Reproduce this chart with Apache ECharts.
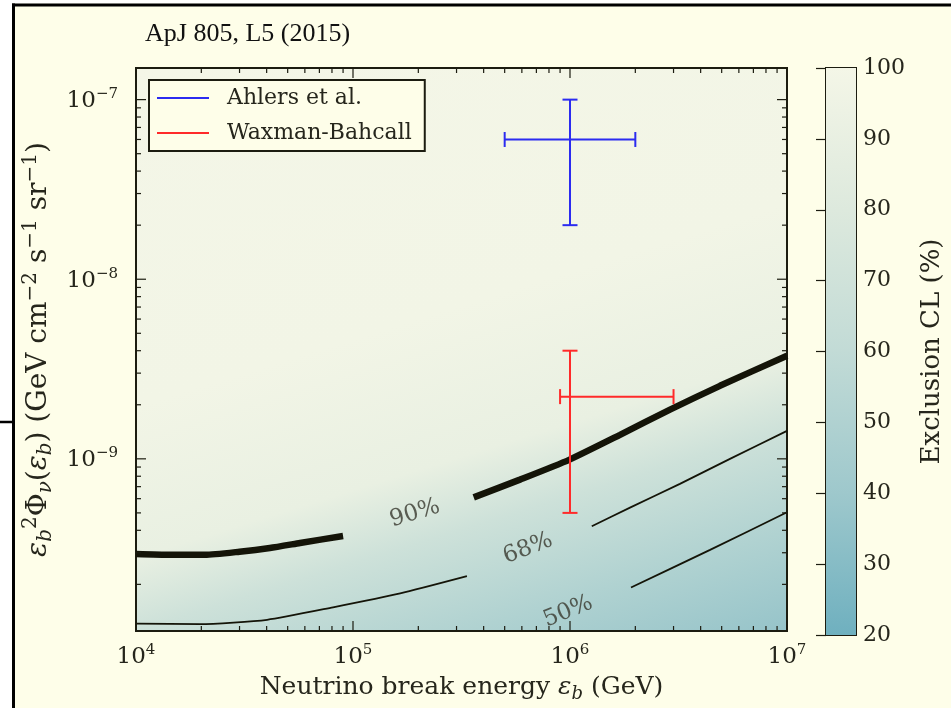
<!DOCTYPE html>
<html>
<head>
<meta charset="utf-8">
<script src="https://cdn.jsdelivr.net/npm/echarts@6/dist/echarts.min.js"></script>
<style>
  html, body { margin: 0; padding: 0; background: #ffffff; }
  #chart { width: 951px; height: 708px; }
</style>
</head>
<body>
<div id="chart"></div>
<script>
// ---- axes ----
const xRange = [1e4, 1e7];            // neutrino break energy (GeV)
const yRange = [1.1e-10, 1.5e-7];     // eps_b^2 Phi (GeV cm^-2 s^-1 sr^-1)
const minorSteps = [2, 3, 4, 5, 6, 7, 8, 9];
const xDecades = [1e4, 1e5, 1e6, 1e7];
const yDecades = [1e-10, 1e-9, 1e-8, 1e-7];

// ---- exclusion contours, each a list of drawn segments ----
const contour90 = [
  [[1e4, 2.95e-10], [1.43e4, 2.92e-10], [2.08e4, 2.92e-10], [3.0e4, 3.04e-10], [4.14e4, 3.19e-10], [5.7e4, 3.40e-10], [9.0e4, 3.72e-10]],
  [[3.6e5, 6.1e-10], [5.88e5, 7.66e-10], [9.9e5, 9.87e-10], [1.7e6, 1.36e-9], [2.89e6, 1.88e-9], [4.91e6, 2.55e-9], [1e7, 3.75e-9]]
];
const contour68 = [
  [[1e4, 1.21e-10], [1.97e4, 1.20e-10], [4.02e4, 1.27e-10], [8.09e4, 1.49e-10], [1.65e5, 1.78e-10], [3.35e5, 2.22e-10]],
  [[1.26e6, 4.21e-10], [1.89e6, 5.35e-10], [3.21e6, 7.25e-10], [5.46e6, 1.0e-9], [1e7, 1.43e-9]]
];
const contour50 = [
  [[1.91e6, 1.92e-10], [4.42e6, 3.11e-10], [1e7, 5.04e-10]]
];
const contourLabels = [
  { name: '90%', value: [1.93e5, 4.97e-10], rotate: 17 },
  { name: '68%', value: [6.4e5, 3.17e-10], rotate: 21 },
  { name: '50%', value: [9.8e5, 1.41e-10], rotate: 22 }
];

// ---- model predictions: [x, y, xLow, xHigh, yLow, yHigh] ----
const ahlers = [[1e6, 6e-8, 5e5, 2e6, 2e-8, 1e-7]];
const waxmanBahcall = [[1e6, 2.22e-9, 9e5, 3e6, 5e-10, 4e-9]];

// ---- colour scale (Exclusion CL, %) ----
const clRange = [20, 100];
const clInterval = 10;
const cmapLevels = [20, 40, 60, 80, 100];
const cmapColors = ['#6fb0bf', '#9ec8cc', '#c2dbd6', '#dde9dd', '#f4f6e7'];

const SERIF = '"DejaVu Serif", serif';
const INK = '#1c1c10';
const TEXT = '#26261c';
const PAGE = '#fefee9';

function hexToRgb(h) {
  return [parseInt(h.slice(1, 3), 16), parseInt(h.slice(3, 5), 16), parseInt(h.slice(5, 7), 16)];
}
function cmap(v) {
  for (let i = 0; i < cmapLevels.length - 1; i++) {
    if (v <= cmapLevels[i + 1] || i === cmapLevels.length - 2) {
      const t = Math.max(0, Math.min(1, (v - cmapLevels[i]) / (cmapLevels[i + 1] - cmapLevels[i])));
      const a = hexToRgb(cmapColors[i]), b = hexToRgb(cmapColors[i + 1]);
      const c = a.map((x, k) => Math.round(x + (b[k] - x) * t));
      return 'rgb(' + c.join(',') + ')';
    }
  }
}

// Exclusion field shading: CL level along the direction across the contours
const fieldStops = [[0, 100], [0.44, 98], [0.636, 90], [0.731, 68], [0.864, 50], [1, 36]];
const fieldGradient = {
  type: 'linear', global: true,
  x: 31, y: 100, x2: 249, y2: 803,
  colorStops: fieldStops.map(s => ({ offset: s[0], color: cmap(s[1]) }))
};

// tick marks for both log axes (majors and minors), drawn on all four sides
const tickData = [];
xDecades.forEach(d => {
  tickData.push([d, yRange[0], 0, 10]);
  if (d < xRange[1]) minorSteps.forEach(m => tickData.push([d * m, yRange[0], 0, 5]));
});
yDecades.forEach(d => {
  if (d >= yRange[0] && d <= yRange[1]) tickData.push([xRange[0], d, 1, 10]);
  minorSteps.forEach(m => {
    const v = d * m;
    if (v > yRange[0] && v < yRange[1]) tickData.push([xRange[0], v, 1, 5]);
  });
});

function renderTicks(params, api) {
  const cs = params.coordSys;
  const len = api.value(3);
  const st = { stroke: INK, lineWidth: 1.2 };
  if (api.value(2) === 0) {
    const px = api.coord([api.value(0), yRange[0]])[0];
    const b = cs.y + cs.height;
    return { type: 'group', children: [
      { type: 'line', shape: { x1: px, y1: b, x2: px, y2: b - len }, style: st },
      { type: 'line', shape: { x1: px, y1: cs.y, x2: px, y2: cs.y + len }, style: st }
    ] };
  }
  const py = api.coord([xRange[0], api.value(1)])[1];
  const r = cs.x + cs.width;
  return { type: 'group', children: [
    { type: 'line', shape: { x1: cs.x, y1: py, x2: cs.x + len, y2: py }, style: st },
    { type: 'line', shape: { x1: r, y1: py, x2: r - len, y2: py }, style: st }
  ] };
}

function renderErrorBar(color) {
  return function (params, api) {
    const c = api.coord([api.value(0), api.value(1)]);
    const xl = api.coord([api.value(2), api.value(1)])[0];
    const xh = api.coord([api.value(3), api.value(1)])[0];
    const yl = api.coord([api.value(0), api.value(4)])[1];
    const yh = api.coord([api.value(0), api.value(5)])[1];
    const st = { stroke: color, lineWidth: 2 };
    const cap = 7.5;
    const seg = (x1, y1, x2, y2) => ({ type: 'line', shape: { x1, y1, x2, y2 }, style: st });
    return { type: 'group', children: [
      seg(xl, c[1], xh, c[1]),
      seg(xl, c[1] - cap, xl, c[1] + cap),
      seg(xh, c[1] - cap, xh, c[1] + cap),
      seg(c[0], yl, c[0], yh),
      seg(c[0] - cap, yl, c[0] + cap, yl),
      seg(c[0] - cap, yh, c[0] + cap, yh)
    ] };
  };
}

function renderColorbar(params, api) {
  const top = api.coord([0, api.value(2)]);
  const bot = api.coord([1, api.value(1)]);
  const span = api.value(2) - api.value(1);
  return {
    type: 'rect',
    shape: { x: top[0], y: top[1], width: bot[0] - top[0], height: bot[1] - top[1] },
    style: {
      fill: {
        type: 'linear', x: 0, y: 0, x2: 0, y2: 1,
        colorStops: cmapLevels.slice().reverse().map(l => ({ offset: (api.value(2) - l) / span, color: cmap(l) }))
      }
    }
  };
}

function powerLabel(v) {
  const e = Math.log10(v);
  const r = Math.round(e);
  if (Math.abs(e - r) > 1e-6) return '';
  return '{b|10}{s|' + (r < 0 ? '\u2212' + (-r) : r) + '}';
}
const powerRich = {
  b: { fontFamily: SERIF, fontSize: 23, color: TEXT, lineHeight: 26, verticalAlign: 'bottom' },
  s: { fontFamily: SERIF, fontSize: 15, color: TEXT, lineHeight: 15, verticalAlign: 'top' }
};
function mathRich(size) {
  const sub = Math.round(size * 0.7);
  return {
    t: { fontFamily: SERIF, fontSize: size, color: TEXT, lineHeight: size + 7 },
    i: { fontFamily: SERIF, fontSize: size, fontStyle: 'italic', color: TEXT, lineHeight: size + 7 },
    sb: { fontFamily: SERIF, fontSize: sub, fontStyle: 'italic', color: TEXT, lineHeight: sub + 5, verticalAlign: 'bottom' },
    sp: { fontFamily: SERIF, fontSize: sub, color: TEXT, lineHeight: sub, verticalAlign: 'top' }
  };
}

const contourSeries = [];
[[contour90, 6.5], [contour68, 1.8], [contour50, 1.8]].forEach(([segs, w]) => {
  segs.forEach(seg => contourSeries.push({
    type: 'line', data: seg, showSymbol: false, smooth: 0.2, silent: true,
    lineStyle: { color: '#141408', width: w }, z: 3
  }));
});

const chart = echarts.init(document.getElementById('chart'), null, { renderer: 'canvas' });
chart.setOption({
  animation: false,
  backgroundColor: PAGE,
  title: {
    text: 'ApJ 805, L5 (2015)', left: 140, top: 16,
    textStyle: { fontFamily: '"Liberation Serif", serif', fontSize: 26, fontWeight: 'normal', color: '#111111' }
  },
  graphic: [
    { type: 'rect', shape: { x: 0, y: 0, width: 12, height: 708 }, style: { fill: '#ffffff' }, silent: true },
    { type: 'rect', shape: { x: 0, y: 0, width: 951, height: 3.5 }, style: { fill: '#ffffff' }, silent: true },
    { type: 'line', shape: { x1: 13.5, y1: 3.5, x2: 13.5, y2: 708 }, style: { stroke: '#000', lineWidth: 3 }, silent: true },
    { type: 'line', shape: { x1: 12, y1: 5, x2: 951, y2: 5 }, style: { stroke: '#000', lineWidth: 3 }, silent: true },
    { type: 'line', shape: { x1: 0, y1: 422, x2: 13, y2: 422 }, style: { stroke: '#000', lineWidth: 2.5 }, silent: true }
  ],
  legend: {
    orient: 'vertical', left: 149, top: 80,
    padding: [7, 13, 7, 8], itemGap: 13, itemWidth: 52, itemHeight: 2,
    backgroundColor: PAGE, borderColor: INK, borderWidth: 2,
    textStyle: { fontFamily: SERIF, fontSize: 22, lineHeight: 22, color: TEXT, padding: [0, 0, 0, 13] },
    data: [
      { name: 'Ahlers et al.', icon: 'rect', itemStyle: { color: '#2b2bf0' } },
      { name: 'Waxman-Bahcall', icon: 'rect', itemStyle: { color: '#ff2a2a' } }
    ]
  },
  grid: [
    { left: 136, right: 164, top: 68, bottom: 73, show: true, borderColor: INK, borderWidth: 2, backgroundColor: fieldGradient },
    { left: 826, width: 30, top: 68, bottom: 73, show: true, borderColor: INK, borderWidth: 2, backgroundColor: 'transparent' }
  ],
  xAxis: [
    {
      gridIndex: 0, type: 'log', logBase: 10, min: xRange[0], max: xRange[1],
      axisLine: { show: false }, axisTick: { show: false }, splitLine: { show: false },
      axisLabel: { margin: 12, formatter: powerLabel, rich: powerRich },
      name: '{t|Neutrino break energy }{i|ε}{sb|b}{t| (GeV)}', nameLocation: 'middle', nameGap: 40,
      nameTextStyle: { rich: mathRich(25) }
    },
    { gridIndex: 1, type: 'value', min: 0, max: 1, show: false }
  ],
  yAxis: [
    {
      gridIndex: 0, type: 'log', logBase: 10, min: yRange[0], max: yRange[1],
      axisLine: { show: false }, axisTick: { show: false }, splitLine: { show: false },
      axisLabel: { margin: 18, formatter: powerLabel, rich: powerRich },
      name: '{i|ε}{sb|b}{sp|2}{t|Φ}{sb|ν}{t|(}{i|ε}{sb|b}{t|) (GeV cm}{sp|\u22122}{t| s}{sp|\u22121}{t| sr}{sp|\u22121}{t|)}',
      nameLocation: 'middle', nameGap: 76, nameRotate: 90,
      nameTextStyle: { rich: mathRich(28) }
    },
    {
      gridIndex: 1, type: 'value', position: 'right', min: clRange[0], max: clRange[1], interval: clInterval,
      axisLine: { show: false }, splitLine: { show: false },
      axisTick: { show: true, inside: true, length: 10, lineStyle: { color: INK, width: 1.2 } },
      axisLabel: { margin: 7, fontFamily: SERIF, fontSize: 22, color: TEXT },
      name: 'Exclusion CL (%)', nameLocation: 'middle', nameGap: 63, nameRotate: 90,
      nameTextStyle: { fontFamily: SERIF, fontSize: 26, color: TEXT }
    }
  ],
  series: [
    ...contourSeries,
    {
      type: 'scatter', symbolSize: 0, silent: true, z: 4,
      data: contourLabels.map(l => ({ name: l.name, value: l.value, label: { rotate: l.rotate } })),
      label: { show: true, position: 'inside', formatter: '{b}', fontFamily: SERIF, fontSize: 23, color: '#38382e' }
    },
    {
      name: 'Ahlers et al.', type: 'custom', xAxisIndex: 0, yAxisIndex: 0, z: 5,
      itemStyle: { color: '#2b2bf0' }, encode: { x: [0, 2, 3], y: [1, 4, 5] },
      renderItem: renderErrorBar('#2b2bf0'), data: ahlers
    },
    {
      name: 'Waxman-Bahcall', type: 'custom', xAxisIndex: 0, yAxisIndex: 0, z: 5,
      itemStyle: { color: '#ff2a2a' }, encode: { x: [0, 2, 3], y: [1, 4, 5] },
      renderItem: renderErrorBar('#ff2a2a'), data: waxmanBahcall
    },
    {
      type: 'custom', xAxisIndex: 0, yAxisIndex: 0, z: 6, silent: true,
      encode: { x: 0, y: 1 }, renderItem: renderTicks, data: tickData
    },
    {
      type: 'custom', xAxisIndex: 1, yAxisIndex: 1, z: 1, silent: true,
      encode: { x: 0, y: [1, 2] }, renderItem: renderColorbar, data: [[0, clRange[0], clRange[1]]]
    }
  ]
});
</script>
</body>
</html>
